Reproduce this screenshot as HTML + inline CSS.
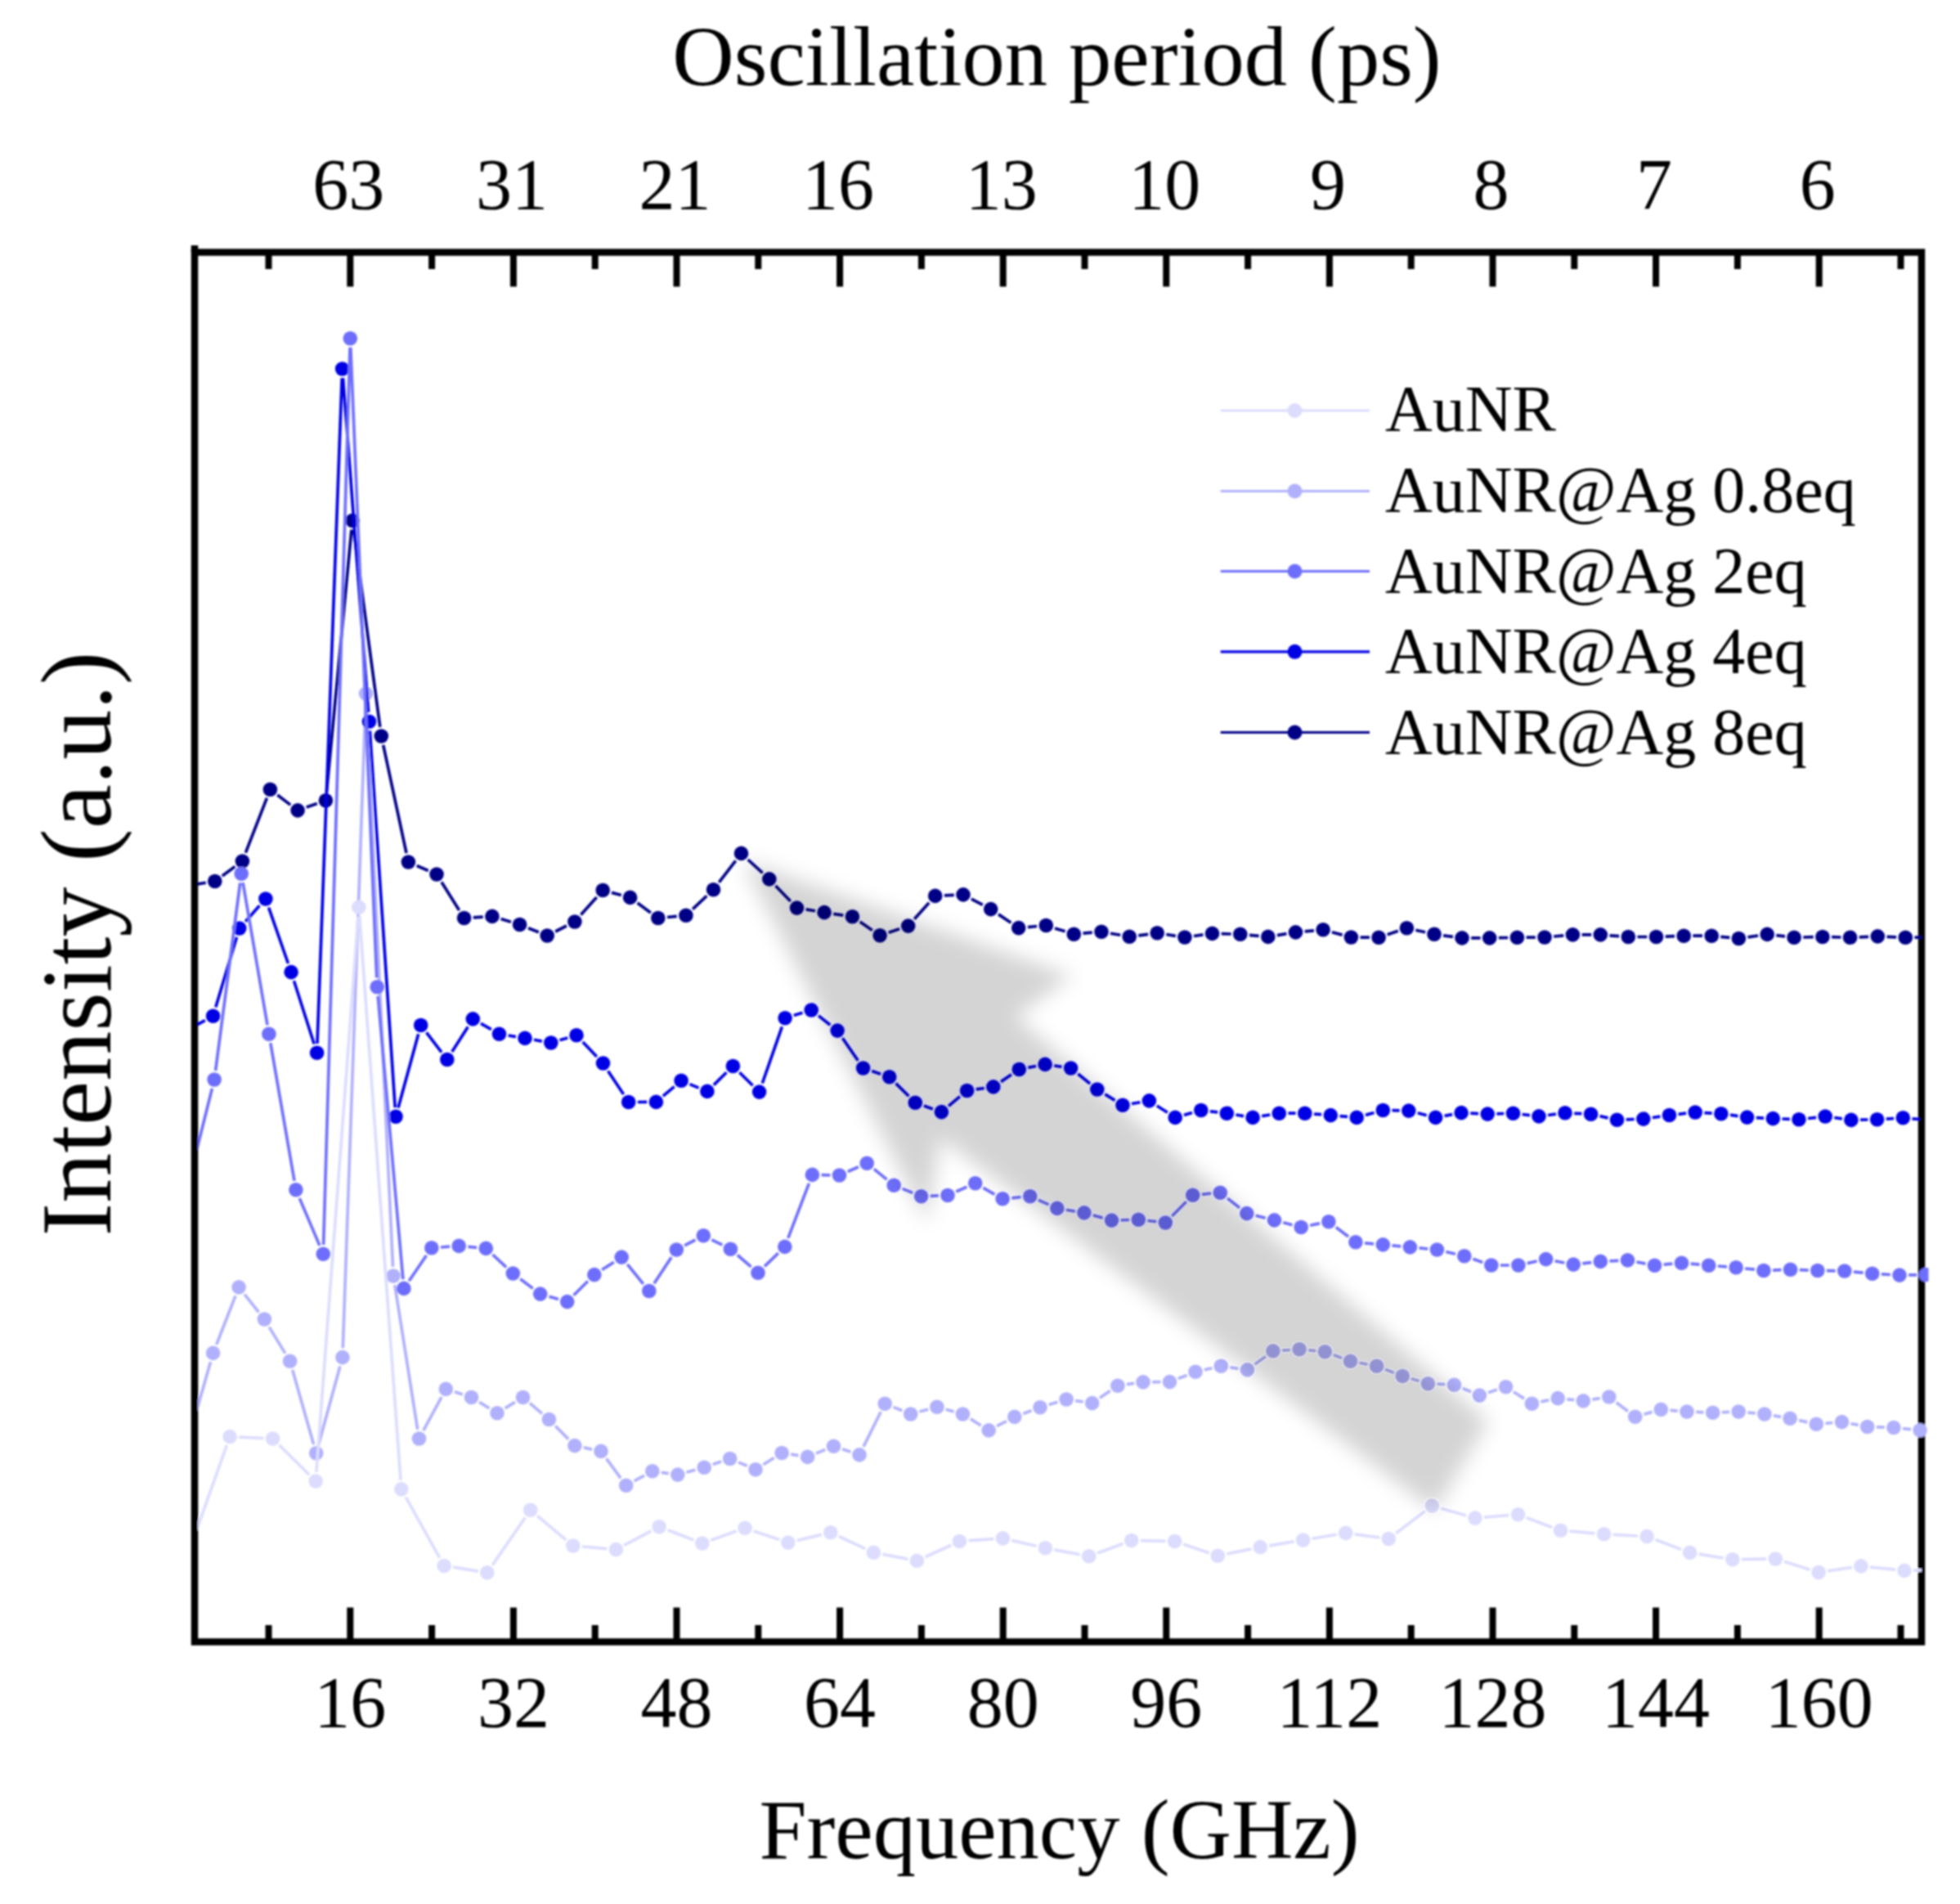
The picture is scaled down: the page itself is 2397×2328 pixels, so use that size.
<!DOCTYPE html>
<html><head><meta charset="utf-8"><title>FFT spectra</title>
<style>
html,body{margin:0;padding:0;background:#fff}
svg{display:block}
text{font-family:"Liberation Serif",serif;fill:#000}
.t{font-size:88px;text-anchor:middle}
.a{font-size:104.5px;text-anchor:middle}
.y{font-size:122px;text-anchor:middle}
.l{font-size:80px}
</style></head><body>
<svg width="2397" height="2328" viewBox="0 0 2397 2328">
<defs><clipPath id="c"><rect x="242" y="308.5" width="2116.5" height="1699.0"/></clipPath><clipPath id="d"><rect x="242" y="308.5" width="2108" height="1699.0"/></clipPath>
<filter id="b" x="-20%" y="-20%" width="140%" height="140%"><feGaussianBlur stdDeviation="12"/></filter>
<filter id="s" filterUnits="userSpaceOnUse" x="0" y="0" width="2397" height="2328"><feGaussianBlur stdDeviation="0.9"/></filter></defs>
<rect width="2397" height="2328" fill="#fff"/>
<g filter="url(#s)">
<text x="1292.5" y="104" class="a">Oscillation period (ps)</text>
<text x="1295.5" y="2271.6" class="a">Frequency (GHz)</text>
<text transform="translate(135 1154) rotate(-90)" class="y">Intensity (a.u.)</text>
<text x="426.3" y="255" class="t">63</text><text x="428.3" y="2111" class="t">16</text><text x="625.9" y="255" class="t">31</text><text x="627.9" y="2111" class="t">32</text><text x="825.5" y="255" class="t">21</text><text x="827.5" y="2111" class="t">48</text><text x="1025.1" y="255" class="t">16</text><text x="1027.1" y="2111" class="t">64</text><text x="1224.7" y="255" class="t">13</text><text x="1226.7" y="2111" class="t">80</text><text x="1424.3" y="255" class="t">10</text><text x="1426.3" y="2111" class="t">96</text><text x="1623.9" y="255" class="t">9</text><text x="1625.9" y="2111" class="t">112</text><text x="1823.5" y="255" class="t">8</text><text x="1825.5" y="2111" class="t">128</text><text x="2023.1" y="255" class="t">7</text><text x="2025.1" y="2111" class="t">144</text><text x="2222.7" y="255" class="t">6</text><text x="2224.7" y="2111" class="t">160</text>
<rect x="238" y="308.5" width="2112" height="1699.0" fill="none" stroke="#000" stroke-width="8.5"/>
<path d="M238 300V308.5" stroke="#000" stroke-width="8.5"/>
<path d="M428.3 308.5v42M428.3 2007.5v-42M627.9 308.5v42M627.9 2007.5v-42M827.5 308.5v42M827.5 2007.5v-42M1027.1 308.5v42M1027.1 2007.5v-42M1226.7 308.5v42M1226.7 2007.5v-42M1426.3 308.5v42M1426.3 2007.5v-42M1625.9 308.5v42M1625.9 2007.5v-42M1825.5 308.5v42M1825.5 2007.5v-42M2025.1 308.5v42M2025.1 2007.5v-42M2224.7 308.5v42M2224.7 2007.5v-42M328.5 308.5v20.5M328.5 2007.5v-20.5M528.1 308.5v20.5M528.1 2007.5v-20.5M727.7 308.5v20.5M727.7 2007.5v-20.5M927.3 308.5v20.5M927.3 2007.5v-20.5M1126.9 308.5v20.5M1126.9 2007.5v-20.5M1326.5 308.5v20.5M1326.5 2007.5v-20.5M1526.1 308.5v20.5M1526.1 2007.5v-20.5M1725.7 308.5v20.5M1725.7 2007.5v-20.5M1925.3 308.5v20.5M1925.3 2007.5v-20.5M2124.9 308.5v20.5M2124.9 2007.5v-20.5M2324.5 308.5v20.5M2324.5 2007.5v-20.5" stroke="#000" stroke-width="8" fill="none"/>
<g clip-path="url(#c)">
<path d="M232.1 1753.8L257.5 1665.2M264.7 1644.0L288.0 1584.3M299.1 1582.6L316.4 1604.3M329.2 1622.6L348.8 1654.6M357.7 1675.0L383.6 1766.0M389.7 1766.0L415.9 1670.4M419.3 1648.4L447.1 859.2M448.0 859.2L480.5 1548.8M482.8 1571.1L510.7 1747.9M517.8 1749.2L540.0 1708.2M556.0 1701.8L565.8 1705.1M586.1 1714.4L598.4 1721.9M617.6 1721.9L629.9 1714.4M648.0 1715.7L662.9 1728.3M679.2 1743.5L695.1 1759.6M713.9 1769.9L724.0 1772.1M741.6 1783.4L759.1 1807.3M775.5 1810.9L788.0 1804.2M808.9 1800.3L817.7 1801.6M839.6 1800.1L850.4 1797.2M871.8 1790.6L882.1 1787.1M903.0 1787.9L913.7 1792.3M933.5 1790.7L946.6 1782.5M967.2 1778.2L976.5 1779.7M997.9 1777.1L1009.2 1772.5M1030.1 1771.8L1040.4 1775.3M1056.0 1768.9L1077.2 1726.2M1092.6 1720.4L1103.3 1724.8M1124.5 1726.0L1135.1 1723.2M1156.7 1723.2L1166.6 1726.0M1186.9 1734.9L1199.7 1743.0M1219.1 1743.7L1230.9 1737.6M1251.3 1728.5L1261.5 1724.7M1282.7 1717.5L1293.4 1714.3M1315.2 1712.6L1324.6 1714.0M1344.9 1709.3L1357.7 1700.5M1378.0 1692.7L1386.9 1691.4M1409.2 1689.8L1419.3 1689.7M1440.9 1685.5L1451.6 1681.4M1472.9 1674.9L1482.4 1672.7M1504.4 1671.9L1514.3 1673.3M1534.4 1668.3L1547.9 1658.5M1568.1 1651.2L1577.9 1650.5M1600.2 1650.9L1609.2 1651.7M1630.8 1656.6L1641.0 1660.4M1662.5 1666.3L1672.6 1668.2M1694.0 1674.3L1704.8 1678.5M1725.9 1685.7L1735.7 1688.5M1757.6 1692.2L1767.3 1692.7M1788.8 1697.5L1799.1 1701.8M1820.1 1702.7L1830.9 1699.1M1851.0 1701.8L1864.0 1710.1M1884.4 1713.9L1894.2 1711.9M1916.3 1710.8L1925.2 1711.7M1947.4 1711.2L1956.7 1709.7M1976.7 1714.8L1990.8 1725.5M2010.5 1729.3L2020.5 1726.4M2042.5 1724.3L2051.8 1725.1M2074.2 1726.4L2083.5 1726.8M2105.9 1726.8L2115.0 1726.4M2137.4 1727.1L2146.7 1727.9M2168.9 1730.9L2178.1 1732.4M2200.1 1736.6L2210.3 1738.9M2232.5 1740.3L2241.3 1739.5M2263.5 1740.7L2272.7 1742.4M2294.9 1744.8L2304.7 1745.2M2327.0 1746.6L2337.0 1747.7" stroke="#b0b0fd" stroke-width="3.7" fill="none" clip-path="url(#d)"/>
<g fill="#b0b0fd"><circle cx="260.6" cy="1654.4" r="8.8"/><circle cx="292.1" cy="1573.9" r="8.8"/><circle cx="323.4" cy="1613.0" r="8.8"/><circle cx="354.6" cy="1664.2" r="8.8"/><circle cx="386.7" cy="1776.8" r="8.8"/><circle cx="418.9" cy="1659.6" r="8.8"/><circle cx="447.5" cy="848.0" r="8.8"/><circle cx="481.0" cy="1560.0" r="8.8"/><circle cx="512.5" cy="1759.0" r="8.8"/><circle cx="545.3" cy="1698.4" r="8.8"/><circle cx="576.5" cy="1708.5" r="8.8"/><circle cx="608.0" cy="1727.8" r="8.8"/><circle cx="639.5" cy="1708.5" r="8.8"/><circle cx="671.4" cy="1735.5" r="8.8"/><circle cx="702.9" cy="1767.6" r="8.8"/><circle cx="735.0" cy="1774.4" r="8.8"/><circle cx="765.7" cy="1816.3" r="8.8"/><circle cx="797.8" cy="1798.8" r="8.8"/><circle cx="828.8" cy="1803.1" r="8.8"/><circle cx="861.2" cy="1794.2" r="8.8"/><circle cx="892.7" cy="1783.5" r="8.8"/><circle cx="924.0" cy="1796.7" r="8.8"/><circle cx="956.1" cy="1776.5" r="8.8"/><circle cx="987.6" cy="1781.4" r="8.8"/><circle cx="1019.5" cy="1768.2" r="8.8"/><circle cx="1051.0" cy="1778.9" r="8.8"/><circle cx="1082.2" cy="1716.2" r="8.8"/><circle cx="1113.7" cy="1729.0" r="8.8"/><circle cx="1145.9" cy="1720.2" r="8.8"/><circle cx="1177.4" cy="1729.0" r="8.8"/><circle cx="1209.2" cy="1748.9" r="8.8"/><circle cx="1240.8" cy="1732.4" r="8.8"/><circle cx="1272.0" cy="1720.8" r="8.8"/><circle cx="1304.1" cy="1711.0" r="8.8"/><circle cx="1335.7" cy="1715.6" r="8.8"/><circle cx="1366.9" cy="1694.2" r="8.8"/><circle cx="1398.0" cy="1689.9" r="8.8"/><circle cx="1430.5" cy="1689.6" r="8.8"/><circle cx="1462.0" cy="1677.3" r="8.8"/><circle cx="1493.3" cy="1670.3" r="8.8"/><circle cx="1525.4" cy="1674.9" r="8.8"/><circle cx="1556.9" cy="1651.9" r="8.8"/><circle cx="1589.1" cy="1649.8" r="8.8"/><circle cx="1620.3" cy="1652.8" r="8.8"/><circle cx="1651.5" cy="1664.2" r="8.8"/><circle cx="1683.6" cy="1670.3" r="8.8"/><circle cx="1715.2" cy="1682.5" r="8.8"/><circle cx="1746.4" cy="1691.7" r="8.8"/><circle cx="1778.5" cy="1693.2" r="8.8"/><circle cx="1809.4" cy="1706.1" r="8.8"/><circle cx="1841.6" cy="1695.7" r="8.8"/><circle cx="1873.4" cy="1716.2" r="8.8"/><circle cx="1905.2" cy="1709.6" r="8.8"/><circle cx="1936.3" cy="1712.9" r="8.8"/><circle cx="1967.8" cy="1708.0" r="8.8"/><circle cx="1999.7" cy="1732.3" r="8.8"/><circle cx="2031.3" cy="1723.4" r="8.8"/><circle cx="2063.0" cy="1726.0" r="8.8"/><circle cx="2094.7" cy="1727.2" r="8.8"/><circle cx="2126.2" cy="1726.0" r="8.8"/><circle cx="2157.9" cy="1729.0" r="8.8"/><circle cx="2189.1" cy="1734.3" r="8.8"/><circle cx="2221.3" cy="1741.2" r="8.8"/><circle cx="2252.5" cy="1738.6" r="8.8"/><circle cx="2283.7" cy="1744.5" r="8.8"/><circle cx="2315.9" cy="1745.5" r="8.8"/><circle cx="2348.1" cy="1748.8" r="8.8"/></g>
<path d="M232.4 1893.4L277.3 1767.2M292.3 1757.1L322.3 1758.5M341.5 1766.9L378.1 1803.1M386.9 1799.8L438.1 1120.4M439.7 1120.4L490.0 1809.7M496.3 1830.7L537.6 1904.7M554.2 1916.2L584.7 1921.1M602.2 1913.6L642.3 1855.5M657.3 1853.5L692.2 1882.8M712.0 1891.0L742.2 1893.6M763.3 1889.4L796.2 1872.0M816.6 1870.8L848.3 1883.0M869.3 1883.2L900.6 1872.1M921.7 1871.9L953.2 1882.5M974.7 1883.5L1004.9 1876.4M1026.0 1878.5L1058.2 1893.6M1079.4 1900.4L1110.4 1906.3M1131.6 1903.7L1163.2 1889.2M1184.6 1883.7L1215.2 1881.7M1237.3 1883.4L1267.5 1890.3M1289.4 1894.9L1320.7 1900.8M1342.2 1899.0L1373.2 1887.4M1394.9 1883.7L1425.4 1884.3M1447.2 1888.1L1478.7 1898.7M1500.3 1900.0L1530.3 1893.9M1552.4 1889.8L1582.5 1884.8M1604.7 1881.2L1634.6 1876.2M1656.8 1875.9L1687.2 1880.0M1707.2 1874.7L1742.4 1847.9M1762.1 1844.2L1793.1 1853.0M1815.1 1855.2L1845.4 1852.7M1867.1 1855.7L1898.0 1867.4M1919.7 1872.2L1950.4 1874.9M1972.8 1876.4L2002.9 1878.0M2024.6 1882.6L2056.1 1894.4M2077.7 1900.2L2107.7 1905.0M2130.0 1906.6L2160.1 1906.2M2182.0 1909.3L2213.4 1919.2M2235.2 1920.9L2264.9 1916.5M2287.1 1916.1L2317.9 1919.2M2340.2 1920.1L2369.8 1919.3" stroke="#dcdcff" stroke-width="3.7" fill="none" clip-path="url(#d)"/>
<g fill="#dcdcff"><circle cx="281.1" cy="1756.6" r="8.8"/><circle cx="333.5" cy="1759.0" r="8.8"/><circle cx="386.1" cy="1811.0" r="8.8"/><circle cx="438.9" cy="1109.2" r="8.8"/><circle cx="490.8" cy="1820.9" r="8.8"/><circle cx="543.1" cy="1914.5" r="8.8"/><circle cx="595.8" cy="1922.8" r="8.8"/><circle cx="648.7" cy="1846.3" r="8.8"/><circle cx="700.8" cy="1890.0" r="8.8"/><circle cx="753.4" cy="1894.6" r="8.8"/><circle cx="806.1" cy="1866.8" r="8.8"/><circle cx="858.8" cy="1887.0" r="8.8"/><circle cx="911.1" cy="1868.3" r="8.8"/><circle cx="963.8" cy="1886.1" r="8.8"/><circle cx="1015.8" cy="1873.8" r="8.8"/><circle cx="1068.4" cy="1898.3" r="8.8"/><circle cx="1121.4" cy="1908.4" r="8.8"/><circle cx="1173.4" cy="1884.5" r="8.8"/><circle cx="1226.4" cy="1880.9" r="8.8"/><circle cx="1278.4" cy="1892.8" r="8.8"/><circle cx="1331.7" cy="1902.9" r="8.8"/><circle cx="1383.7" cy="1883.5" r="8.8"/><circle cx="1436.6" cy="1884.5" r="8.8"/><circle cx="1489.3" cy="1902.3" r="8.8"/><circle cx="1541.3" cy="1891.6" r="8.8"/><circle cx="1593.6" cy="1883.0" r="8.8"/><circle cx="1645.7" cy="1874.4" r="8.8"/><circle cx="1698.3" cy="1881.5" r="8.8"/><circle cx="1751.3" cy="1841.1" r="8.8"/><circle cx="1803.9" cy="1856.1" r="8.8"/><circle cx="1856.6" cy="1851.8" r="8.8"/><circle cx="1908.5" cy="1871.3" r="8.8"/><circle cx="1961.6" cy="1875.8" r="8.8"/><circle cx="2014.1" cy="1878.6" r="8.8"/><circle cx="2066.6" cy="1898.4" r="8.8"/><circle cx="2118.8" cy="1906.8" r="8.8"/><circle cx="2171.3" cy="1906.0" r="8.8"/><circle cx="2224.1" cy="1922.5" r="8.8"/><circle cx="2276.0" cy="1914.9" r="8.8"/><circle cx="2329.0" cy="1920.4" r="8.8"/></g>
<path d="M240.0 1081.3L251.8 1079.3M271.8 1070.9L287.4 1059.6M300.4 1042.6L326.4 975.6M339.3 972.0L355.2 984.1M374.7 987.1L387.8 982.5M399.5 967.6L429.9 647.6M432.5 647.6L464.8 888.9M468.7 910.9L497.0 1043.1M509.7 1058.5L523.7 1064.5M540.0 1078.5L561.6 1113.0M578.8 1121.8L590.7 1121.1M612.6 1123.6L624.9 1127.3M646.0 1134.7L658.8 1139.8M679.2 1139.0L692.9 1132.0M710.4 1118.6L729.7 1096.9M748.0 1091.4L759.8 1094.5M779.6 1104.0L795.8 1115.9M816.0 1121.5L827.7 1120.3M847.1 1111.6L864.3 1095.4M879.3 1078.8L899.7 1052.3M914.7 1051.0L932.6 1067.3M948.5 1083.0L966.8 1102.0M985.6 1111.9L997.0 1113.8M1019.2 1117.3L1031.3 1119.1M1051.7 1127.1L1066.8 1137.5M1086.7 1140.2L1100.1 1135.7M1118.2 1123.8L1136.2 1103.7M1154.9 1094.9L1166.8 1094.4M1187.9 1099.1L1201.8 1106.4M1221.0 1117.9L1236.4 1128.3M1256.9 1133.6L1268.1 1132.5M1290.0 1134.9L1302.6 1138.8M1324.5 1141.2L1335.8 1140.2M1358.0 1141.2L1370.2 1143.3M1392.3 1143.8L1404.1 1142.3M1426.3 1142.5L1437.8 1144.3M1460.0 1144.5L1471.4 1142.9M1493.7 1141.7L1505.6 1142.0M1528.0 1143.3L1539.6 1144.4M1561.9 1143.6L1573.4 1141.7M1595.7 1138.9L1606.9 1137.8M1628.9 1139.7L1641.6 1143.1M1663.6 1146.1L1674.9 1146.2M1696.7 1142.7L1709.8 1138.3M1731.3 1137.2L1743.1 1139.8M1765.1 1143.8L1776.9 1145.4M1799.2 1146.9L1810.5 1146.9M1832.9 1146.7L1844.2 1146.5M1866.6 1146.2L1877.8 1146.1M1900.2 1145.0L1912.2 1143.9M1934.6 1142.9L1946.1 1142.9M1968.5 1143.8L1980.1 1144.6M2002.5 1145.5L2014.3 1145.5M2036.7 1145.1L2048.0 1144.6M2070.4 1144.2L2082.0 1144.2M2104.3 1145.3L2115.3 1146.4M2137.5 1145.9L2150.1 1144.0M2172.3 1143.7L2183.0 1144.9M2205.3 1146.0L2217.7 1145.7M2240.1 1145.7L2251.4 1146.0M2273.8 1145.8L2285.1 1145.3M2307.5 1145.3L2319.1 1145.8M2341.5 1146.2L2352.8 1146.2" stroke="#000086" stroke-width="3.7" fill="none" clip-path="url(#d)"/>
<g fill="#000086"><circle cx="262.8" cy="1077.5" r="8.8"/><circle cx="296.4" cy="1053.0" r="8.8"/><circle cx="330.4" cy="965.2" r="8.8"/><circle cx="364.1" cy="990.9" r="8.8"/><circle cx="398.4" cy="978.7" r="8.8"/><circle cx="431.0" cy="636.5" r="8.8"/><circle cx="466.3" cy="900.0" r="8.8"/><circle cx="499.4" cy="1054.0" r="8.8"/><circle cx="534.0" cy="1069.0" r="8.8"/><circle cx="567.6" cy="1122.5" r="8.8"/><circle cx="601.9" cy="1120.4" r="8.8"/><circle cx="635.6" cy="1130.5" r="8.8"/><circle cx="669.2" cy="1144.0" r="8.8"/><circle cx="702.9" cy="1127.0" r="8.8"/><circle cx="737.2" cy="1088.5" r="8.8"/><circle cx="770.6" cy="1097.4" r="8.8"/><circle cx="804.8" cy="1122.5" r="8.8"/><circle cx="838.9" cy="1119.3" r="8.8"/><circle cx="872.5" cy="1087.7" r="8.8"/><circle cx="906.5" cy="1043.4" r="8.8"/><circle cx="940.8" cy="1074.9" r="8.8"/><circle cx="974.5" cy="1110.1" r="8.8"/><circle cx="1008.1" cy="1115.6" r="8.8"/><circle cx="1042.4" cy="1120.8" r="8.8"/><circle cx="1076.1" cy="1143.8" r="8.8"/><circle cx="1110.7" cy="1132.1" r="8.8"/><circle cx="1143.7" cy="1095.4" r="8.8"/><circle cx="1178.0" cy="1093.9" r="8.8"/><circle cx="1211.7" cy="1111.6" r="8.8"/><circle cx="1245.7" cy="1134.6" r="8.8"/><circle cx="1279.3" cy="1131.5" r="8.8"/><circle cx="1313.3" cy="1142.2" r="8.8"/><circle cx="1347.0" cy="1139.2" r="8.8"/><circle cx="1381.2" cy="1145.3" r="8.8"/><circle cx="1415.2" cy="1140.8" r="8.8"/><circle cx="1448.9" cy="1146.0" r="8.8"/><circle cx="1482.5" cy="1141.4" r="8.8"/><circle cx="1516.8" cy="1142.3" r="8.8"/><circle cx="1550.8" cy="1145.4" r="8.8"/><circle cx="1584.5" cy="1139.9" r="8.8"/><circle cx="1618.1" cy="1136.8" r="8.8"/><circle cx="1652.4" cy="1146.0" r="8.8"/><circle cx="1686.1" cy="1146.3" r="8.8"/><circle cx="1720.4" cy="1134.7" r="8.8"/><circle cx="1754.0" cy="1142.3" r="8.8"/><circle cx="1788.0" cy="1146.9" r="8.8"/><circle cx="1821.7" cy="1146.9" r="8.8"/><circle cx="1855.4" cy="1146.3" r="8.8"/><circle cx="1889.0" cy="1146.0" r="8.8"/><circle cx="1923.4" cy="1142.9" r="8.8"/><circle cx="1957.3" cy="1142.9" r="8.8"/><circle cx="1991.3" cy="1145.5" r="8.8"/><circle cx="2025.5" cy="1145.5" r="8.8"/><circle cx="2059.2" cy="1144.2" r="8.8"/><circle cx="2093.2" cy="1144.2" r="8.8"/><circle cx="2126.4" cy="1147.5" r="8.8"/><circle cx="2161.2" cy="1142.4" r="8.8"/><circle cx="2194.1" cy="1146.2" r="8.8"/><circle cx="2228.9" cy="1145.5" r="8.8"/><circle cx="2262.6" cy="1146.2" r="8.8"/><circle cx="2296.3" cy="1144.9" r="8.8"/><circle cx="2330.3" cy="1146.2" r="8.8"/></g>
<path d="M238.6 1254.2L250.8 1247.6M263.8 1231.5L289.5 1145.7M300.2 1126.7L317.4 1107.3M328.6 1109.6L352.4 1178.0M359.5 1199.3L384.2 1276.5M388.0 1276.0L418.2 462.2M419.5 462.2L450.6 871.0M452.3 893.4L483.2 1354.1M487.0 1354.5L511.7 1264.3M521.5 1262.4L540.0 1286.6M552.8 1286.0L572.3 1255.4M588.0 1251.4L600.8 1258.7M621.6 1266.0L630.9 1267.6M653.0 1271.3L662.8 1273.1M684.5 1271.8L694.3 1269.0M712.7 1273.9L729.8 1291.9M743.6 1309.4L762.6 1338.1M779.9 1347.5L791.2 1347.4M810.9 1340.1L824.6 1328.6M843.5 1325.6L854.5 1330.1M872.9 1326.6L888.4 1311.3M904.4 1311.3L920.6 1327.3M932.3 1324.5L956.4 1255.4M970.8 1241.5L981.5 1238.3M1001.0 1241.9L1015.3 1253.2M1030.4 1269.3L1049.3 1296.8M1066.2 1309.5L1077.1 1313.2M1095.6 1324.6L1111.4 1340.3M1129.9 1351.9L1140.8 1355.9M1160.0 1352.4L1174.0 1340.7M1193.7 1331.9L1203.7 1330.5M1224.1 1322.6L1237.0 1313.8M1257.3 1305.4L1267.1 1303.5M1289.2 1303.0L1298.5 1304.4M1318.3 1313.0L1333.1 1325.0M1351.3 1337.9L1363.5 1345.4M1384.0 1349.5L1394.4 1347.7M1414.8 1352.0L1427.8 1360.3M1448.0 1363.4L1458.0 1360.5M1479.9 1358.8L1489.2 1359.9M1511.4 1363.0L1521.0 1364.6M1543.2 1364.6L1553.2 1363.0M1575.5 1361.2L1584.6 1361.2M1607.0 1362.1L1616.1 1362.7M1638.5 1364.6L1648.0 1365.4M1670.0 1363.4L1680.5 1360.5M1702.5 1357.7L1711.6 1357.9M1733.7 1360.8L1744.7 1363.7M1766.6 1364.4L1776.1 1362.6M1798.3 1361.1L1808.0 1361.6M1830.4 1361.8L1839.3 1361.5M1861.6 1362.5L1870.9 1363.6M1893.1 1363.5L1902.9 1362.2M1925.2 1361.3L1934.4 1361.7M1956.5 1364.6L1966.6 1366.9M1988.7 1368.9L1998.6 1368.5M2020.9 1366.5L2030.4 1365.1M2052.6 1362.3L2062.1 1361.2M2084.4 1360.6L2093.7 1361.1M2116.0 1363.2L2125.5 1364.6M2147.8 1366.6L2157.1 1367.1M2179.5 1368.0L2188.8 1368.4M2211.1 1367.5L2221.1 1366.3M2243.3 1366.5L2252.8 1367.9M2275.1 1369.2L2284.4 1369.0M2306.8 1368.1L2316.1 1367.5M2338.5 1367.8L2347.8 1368.5" stroke="#0000e4" stroke-width="3.7" fill="none" clip-path="url(#d)"/>
<g fill="#0000e4"><circle cx="260.6" cy="1242.2" r="8.8"/><circle cx="292.7" cy="1135.0" r="8.8"/><circle cx="324.9" cy="1099.0" r="8.8"/><circle cx="356.1" cy="1188.6" r="8.8"/><circle cx="387.6" cy="1287.2" r="8.8"/><circle cx="418.6" cy="451.0" r="8.8"/><circle cx="451.5" cy="882.2" r="8.8"/><circle cx="484.0" cy="1365.3" r="8.8"/><circle cx="514.7" cy="1253.5" r="8.8"/><circle cx="546.8" cy="1295.5" r="8.8"/><circle cx="578.3" cy="1245.9" r="8.8"/><circle cx="610.5" cy="1264.2" r="8.8"/><circle cx="642.0" cy="1269.4" r="8.8"/><circle cx="673.8" cy="1275.0" r="8.8"/><circle cx="705.0" cy="1265.8" r="8.8"/><circle cx="737.5" cy="1300.0" r="8.8"/><circle cx="768.7" cy="1347.5" r="8.8"/><circle cx="802.4" cy="1347.4" r="8.8"/><circle cx="833.1" cy="1321.3" r="8.8"/><circle cx="864.9" cy="1334.4" r="8.8"/><circle cx="896.4" cy="1303.5" r="8.8"/><circle cx="928.6" cy="1335.1" r="8.8"/><circle cx="960.1" cy="1244.8" r="8.8"/><circle cx="992.2" cy="1235.0" r="8.8"/><circle cx="1024.1" cy="1260.1" r="8.8"/><circle cx="1055.6" cy="1306.0" r="8.8"/><circle cx="1087.7" cy="1316.7" r="8.8"/><circle cx="1119.3" cy="1348.2" r="8.8"/><circle cx="1151.4" cy="1359.6" r="8.8"/><circle cx="1182.6" cy="1333.5" r="8.8"/><circle cx="1214.8" cy="1328.9" r="8.8"/><circle cx="1246.3" cy="1307.5" r="8.8"/><circle cx="1278.1" cy="1301.4" r="8.8"/><circle cx="1309.6" cy="1306.0" r="8.8"/><circle cx="1341.8" cy="1332.0" r="8.8"/><circle cx="1373.0" cy="1351.3" r="8.8"/><circle cx="1405.4" cy="1345.9" r="8.8"/><circle cx="1437.2" cy="1366.4" r="8.8"/><circle cx="1468.8" cy="1357.5" r="8.8"/><circle cx="1500.3" cy="1361.2" r="8.8"/><circle cx="1532.1" cy="1366.4" r="8.8"/><circle cx="1564.3" cy="1361.2" r="8.8"/><circle cx="1595.8" cy="1361.2" r="8.8"/><circle cx="1627.3" cy="1363.6" r="8.8"/><circle cx="1659.2" cy="1366.4" r="8.8"/><circle cx="1691.3" cy="1357.5" r="8.8"/><circle cx="1722.8" cy="1358.1" r="8.8"/><circle cx="1755.6" cy="1366.4" r="8.8"/><circle cx="1787.1" cy="1360.6" r="8.8"/><circle cx="1819.2" cy="1362.1" r="8.8"/><circle cx="1850.5" cy="1361.2" r="8.8"/><circle cx="1882.0" cy="1364.9" r="8.8"/><circle cx="1914.0" cy="1360.8" r="8.8"/><circle cx="1945.6" cy="1362.2" r="8.8"/><circle cx="1977.5" cy="1369.3" r="8.8"/><circle cx="2009.8" cy="1368.1" r="8.8"/><circle cx="2041.5" cy="1363.5" r="8.8"/><circle cx="2073.2" cy="1360.0" r="8.8"/><circle cx="2104.9" cy="1361.7" r="8.8"/><circle cx="2136.6" cy="1366.1" r="8.8"/><circle cx="2168.3" cy="1367.6" r="8.8"/><circle cx="2200.0" cy="1368.8" r="8.8"/><circle cx="2232.2" cy="1365.0" r="8.8"/><circle cx="2263.9" cy="1369.4" r="8.8"/><circle cx="2295.6" cy="1368.8" r="8.8"/><circle cx="2327.3" cy="1366.8" r="8.8"/></g>
<path d="M231.6 1442.0L259.4 1330.9M263.6 1308.9L293.7 1079.4M297.1 1079.3L327.0 1253.2M330.8 1275.2L360.0 1443.8M366.3 1465.1L390.9 1522.9M395.6 1522.0L428.0 424.9M428.8 424.9L460.7 1195.5M462.2 1217.9L492.9 1564.2M500.2 1566.2L521.5 1535.0M539.0 1525.0L550.0 1524.2M572.4 1524.4L583.1 1525.4M602.5 1534.0L619.1 1549.4M636.3 1563.7L651.7 1575.4M671.5 1585.2L682.9 1588.5M701.6 1583.7L718.9 1566.5M736.2 1552.5L750.8 1543.2M767.3 1545.8L786.7 1569.8M800.0 1569.2L821.1 1537.3M837.2 1522.8L850.4 1516.0M870.3 1515.8L883.4 1522.2M901.9 1534.5L918.5 1548.9M935.0 1548.4L951.8 1532.2M963.8 1513.9L989.4 1446.9M1004.6 1436.6L1015.3 1436.8M1036.8 1432.5L1049.9 1426.8M1068.9 1429.4L1084.5 1442.1M1103.6 1453.4L1116.2 1458.5M1137.8 1462.3L1147.8 1461.9M1169.3 1457.0L1182.4 1451.3M1202.4 1452.3L1216.4 1460.3M1237.3 1464.8L1248.5 1463.7M1269.9 1467.2L1282.6 1472.9M1303.8 1479.2L1314.9 1481.1M1336.7 1485.9L1348.7 1489.1M1370.7 1491.8L1381.1 1491.5M1403.4 1492.5L1414.2 1493.7M1433.2 1487.0L1450.8 1469.3M1469.9 1460.3L1481.1 1459.2M1501.1 1465.1L1516.0 1476.7M1535.7 1486.3L1547.6 1489.2M1569.3 1494.7L1580.4 1497.7M1602.2 1498.3L1613.9 1495.9M1633.8 1500.5L1649.0 1512.0M1669.1 1519.8L1680.1 1520.9M1702.5 1522.9L1713.2 1523.9M1735.6 1525.9L1746.2 1527.0M1768.3 1530.5L1779.9 1533.2M1801.4 1539.3L1813.2 1543.4M1835.0 1547.0L1845.7 1547.0M1867.8 1544.6L1879.7 1542.0M1901.6 1541.7L1913.2 1544.0M1935.3 1544.9L1946.2 1543.6M1968.5 1541.9L1979.3 1541.4M2001.5 1543.0L2012.5 1545.1M2034.7 1546.2L2045.3 1545.2M2067.7 1545.2L2078.5 1546.2M2100.9 1548.0L2111.9 1548.9M2134.2 1551.0L2145.8 1552.2M2168.1 1553.1L2178.4 1552.7M2200.8 1552.7L2211.6 1553.1M2234.0 1553.7L2244.6 1553.8M2266.9 1555.1L2278.6 1556.2M2300.9 1557.9L2311.8 1558.5M2334.2 1558.9L2344.0 1558.8" stroke="#6e6efc" stroke-width="3.7" fill="none" clip-path="url(#d)"/>
<g fill="#6e6efc"><circle cx="262.1" cy="1320.0" r="8.8"/><circle cx="295.2" cy="1068.3" r="8.8"/><circle cx="328.9" cy="1264.2" r="8.8"/><circle cx="361.9" cy="1454.8" r="8.8"/><circle cx="395.3" cy="1533.2" r="8.8"/><circle cx="428.3" cy="413.7" r="8.8"/><circle cx="461.2" cy="1206.7" r="8.8"/><circle cx="493.9" cy="1575.4" r="8.8"/><circle cx="527.8" cy="1525.8" r="8.8"/><circle cx="561.2" cy="1523.4" r="8.8"/><circle cx="594.3" cy="1526.4" r="8.8"/><circle cx="627.3" cy="1557.0" r="8.8"/><circle cx="660.7" cy="1582.1" r="8.8"/><circle cx="693.7" cy="1591.6" r="8.8"/><circle cx="726.8" cy="1558.6" r="8.8"/><circle cx="760.2" cy="1537.1" r="8.8"/><circle cx="793.8" cy="1578.5" r="8.8"/><circle cx="827.3" cy="1528.0" r="8.8"/><circle cx="860.3" cy="1510.8" r="8.8"/><circle cx="893.4" cy="1527.2" r="8.8"/><circle cx="927.0" cy="1556.2" r="8.8"/><circle cx="959.8" cy="1524.4" r="8.8"/><circle cx="993.4" cy="1436.4" r="8.8"/><circle cx="1026.5" cy="1437.0" r="8.8"/><circle cx="1060.2" cy="1422.3" r="8.8"/><circle cx="1093.2" cy="1449.2" r="8.8"/><circle cx="1126.6" cy="1462.7" r="8.8"/><circle cx="1159.0" cy="1461.5" r="8.8"/><circle cx="1192.7" cy="1446.8" r="8.8"/><circle cx="1226.1" cy="1465.8" r="8.8"/><circle cx="1259.7" cy="1462.7" r="8.8"/><circle cx="1292.8" cy="1477.4" r="8.8"/><circle cx="1325.9" cy="1482.9" r="8.8"/><circle cx="1359.5" cy="1492.1" r="8.8"/><circle cx="1392.3" cy="1491.2" r="8.8"/><circle cx="1425.3" cy="1495.0" r="8.8"/><circle cx="1458.7" cy="1461.3" r="8.8"/><circle cx="1492.3" cy="1458.2" r="8.8"/><circle cx="1524.8" cy="1483.6" r="8.8"/><circle cx="1558.5" cy="1491.9" r="8.8"/><circle cx="1591.2" cy="1500.5" r="8.8"/><circle cx="1624.9" cy="1493.7" r="8.8"/><circle cx="1657.9" cy="1518.8" r="8.8"/><circle cx="1691.3" cy="1521.9" r="8.8"/><circle cx="1724.4" cy="1524.9" r="8.8"/><circle cx="1757.4" cy="1528.0" r="8.8"/><circle cx="1790.8" cy="1535.7" r="8.8"/><circle cx="1823.8" cy="1547.0" r="8.8"/><circle cx="1856.9" cy="1547.0" r="8.8"/><circle cx="1890.6" cy="1539.6" r="8.8"/><circle cx="1924.2" cy="1546.1" r="8.8"/><circle cx="1957.3" cy="1542.4" r="8.8"/><circle cx="1990.5" cy="1540.9" r="8.8"/><circle cx="2023.5" cy="1547.2" r="8.8"/><circle cx="2056.5" cy="1544.2" r="8.8"/><circle cx="2089.7" cy="1547.2" r="8.8"/><circle cx="2123.1" cy="1549.7" r="8.8"/><circle cx="2156.9" cy="1553.5" r="8.8"/><circle cx="2189.6" cy="1552.3" r="8.8"/><circle cx="2222.8" cy="1553.5" r="8.8"/><circle cx="2255.8" cy="1554.0" r="8.8"/><circle cx="2289.7" cy="1557.3" r="8.8"/><circle cx="2323.0" cy="1559.1" r="8.8"/><circle cx="2355.2" cy="1558.6" r="8.8"/></g>
</g>
<polygon points="908,1052 1311,1193 1242,1243 1820,1738 1755,1847 1150,1391 1134,1495" fill="#000" fill-opacity="0.17" filter="url(#b)"/>
<path d="M1492.7 502H1675" stroke="#dcdcff" stroke-width="3.2"/><circle cx="1583.5" cy="502" r="9" fill="#dcdcff"/><text x="1694" y="527" class="l">AuNR</text><path d="M1492.7 600.5H1675" stroke="#b0b0fd" stroke-width="3.2"/><circle cx="1583.5" cy="600.5" r="9" fill="#b0b0fd"/><text x="1694" y="626" class="l">AuNR@Ag 0.8eq</text><path d="M1492.7 698.5H1675" stroke="#6e6efc" stroke-width="3.2"/><circle cx="1583.5" cy="698.5" r="9" fill="#6e6efc"/><text x="1694" y="724.7" class="l">AuNR@Ag 2eq</text><path d="M1492.7 796.8H1675" stroke="#0000e4" stroke-width="3.2"/><circle cx="1583.5" cy="796.8" r="9" fill="#0000e4"/><text x="1694" y="823.4" class="l">AuNR@Ag 4eq</text><path d="M1492.7 895.5H1675" stroke="#000086" stroke-width="3.2"/><circle cx="1583.5" cy="895.5" r="9" fill="#000086"/><text x="1694" y="922" class="l">AuNR@Ag 8eq</text>
</g>
</svg>
</body></html>
